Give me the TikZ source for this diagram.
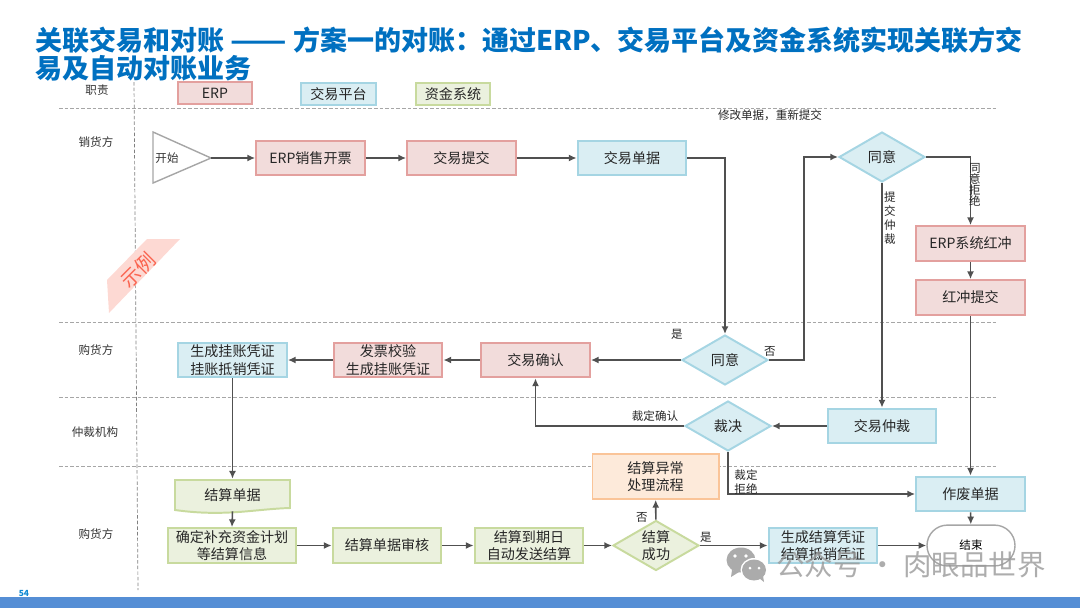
\documentclass[tikz,border=0pt]{standalone}
\usepackage{fontspec}
\setmainfont{Noto Sans CJK SC}
\usetikzlibrary{arrows.meta,shapes.geometric,shapes.misc}
\definecolor{erpfill}{HTML}{F2DCDB}
\definecolor{erpline}{HTML}{E3A09E}
\definecolor{platfill}{HTML}{DAEEF3}
\definecolor{platline}{HTML}{A5D5E3}
\definecolor{fundfill}{HTML}{EBF1DE}
\definecolor{fundline}{HTML}{C8DA9E}
\definecolor{warnfill}{HTML}{FDEADA}
\definecolor{warnline}{HTML}{FAC498}
\definecolor{flowline}{HTML}{505050}
\definecolor{titleblue}{HTML}{0070C0}
\definecolor{barblue}{HTML}{558ED5}
\definecolor{bannerfill}{HTML}{FDD9D3}
\definecolor{bannertext}{HTML}{FA6450}
\definecolor{markgray}{HTML}{ABABAB}
\tikzset{
  boxtext/.style={font=\fontsize{10}{12.5}\selectfont, text=black!85, align=center, inner sep=0pt},
  erpbox/.style={boxtext, draw=erpline, fill=erpfill, line width=1.4pt, minimum width=2.72cm, minimum height=0.87cm},
  platbox/.style={boxtext, draw=platline, fill=platfill, line width=1.4pt, minimum width=2.72cm, minimum height=0.87cm},
  fundbox/.style={boxtext, draw=fundline, fill=fundfill, line width=1.4pt, minimum width=2.72cm, minimum height=0.87cm},
  platdiamond/.style={boxtext, diamond, aspect=1.7, draw=platline, fill=platfill, line width=1.4pt, minimum width=2.15cm, minimum height=1.25cm},
  funddiamond/.style={platdiamond, draw=fundline, fill=fundfill},
  legend/.style={minimum width=1.87cm, minimum height=0.55cm},
  lane/.style={font=\fontsize{8.2}{9}\selectfont, text=black!80, inner sep=0pt},
  tag/.style={font=\fontsize{8.2}{9.4}\selectfont, text=black!85, align=center, inner sep=0pt},
  flow/.style={draw=flowline, line width=1.1pt, -{Latex[length=5.5pt,width=5pt]}},
  swim/.style={draw=black!35, line width=0.5pt, dash pattern=on 2.5pt off 1.5pt},
}
\begin{document}
\begin{tikzpicture}[x=0.025cm,y=-0.025cm]
\useasboundingbox (0,0) rectangle (1080,608);
% title and footer
\node[font=\fontsize{19.2}{20.2}\bfseries, text=titleblue, anchor=north west, align=left, inner sep=0pt] (title) at (35,26)
  {关联交易和对账 \scalebox{1.22}[1]{——} 方案一的对账：通过ERP、交易平台及资金系统实现关联方交\\易及自动对账业务};
\fill[barblue] (0,597) rectangle (1080,608);
\node[font=\fontsize{6}{7}\bfseries, text=cyan!70!blue, inner sep=0pt] (pageno) at (24,593) {54};
% swimlane rules
\foreach \y in {108,322,397,466}
  \draw[swim] (59,\y) -- (996,\y);
\draw[swim, draw=black!50] (134,82) -- (138,590);
% corner banner
\fill[bannerfill] (147,239) -- (180,239) -- (109,313) -- (107,280) -- cycle;
\node[rotate=45, font=\fontsize{14}{15}\selectfont, text=bannertext, inner sep=0pt] (sample) at (138,270) {示例};
% lanes and legend
\node[lane] (laneduty) at (97,90) {职责};
\node[lane] (laneseller) at (96,142) {销货方};
\node[lane] (lanebuyera) at (96,350) {购货方};
\node[lane] (lanearbiter) at (95,432) {仲裁机构};
\node[lane] (lanebuyerb) at (96,534) {购货方};
\node[erpbox, legend] (legerp) at (215,93) {ERP};
\node[platbox, legend] (legplat) at (338.5,94) {交易平台};
\node[fundbox, legend] (legfund) at (453,94) {资金系统};
% seller row
\draw[draw=black!35, line width=1pt, fill=white] (153,132) -- (153,183) -- (211,158) -- cycle;
\coordinate (starttip) at (211,158);
\node[lane] (starttext) at (167,158) {开始};
\node[erpbox] (invoice) at (310.5,158) {ERP销售开票};
\node[erpbox] (submit) at (461.5,158) {交易提交};
\node[platbox] (tradedoc) at (632,158) {交易单据};
\node[platdiamond] (agreetop) at (882,157) {同意};
\node[erpbox] (redflush) at (970.5,243.5) {ERP系统红冲};
\node[erpbox] (redsubmit) at (970.5,297.5) {红冲提交};
% first buyer row
\node[platdiamond] (agreemid) at (725,360) {同意};
\node[erpbox] (confirm) at (535.5,360) {交易确认};
\node[erpbox] (check) at (388,360) {发票校验\\生成挂账凭证};
\node[platbox] (voucher) at (232.5,360) {生成挂账凭证\\挂账抵销凭证};
% arbitration row
\node[platbox] (arbitrate) at (882,426) {交易仲裁};
\node[platdiamond] (ruling) at (728,426) {裁决};
% second buyer row
\node[boxtext, draw=warnline, fill=warnfill, line width=1.4pt, minimum width=3.15cm, minimum height=1.12cm] (abnormal) at (655.5,476.5) {结算异常\\处理流程};
\node[platbox] (voidbill) at (970.5,494) {作废单据};
\draw[draw=fundline, fill=fundfill, line width=1.4pt] (175,480) -- (290,480) -- (290,508)
  .. controls (255,509) and (225,517) .. (175,510) -- cycle;
\node[boxtext, minimum width=2.87cm, minimum height=0.8cm] (settlenote) at (232.5,495) {结算单据};
\node[fundbox, minimum width=3.2cm] (plan) at (232,545.5) {确定补充资金计划\\等结算信息};
\node[fundbox] (review) at (387,545.5) {结算单据审核};
\node[fundbox] (due) at (529,545.5) {结算到期日\\自动发送结算};
\node[funddiamond] (settled) at (656,545.5) {结算\\成功};
\node[platbox] (settlevoucher) at (823,545.5) {生成结算凭证\\结算抵销凭证};
\node[rounded rectangle, draw=black!35, fill=white, line width=1pt, minimum width=2.2cm, minimum height=1.02cm, inner sep=0pt, font=\fontsize{8.2}{9}\selectfont] (finish) at (971,545.5) {结束};
% connectors
\draw[flow] (starttip) -- (invoice);
\draw[flow] (invoice) -- (submit);
\draw[flow] (submit) -- (tradedoc);
\draw[flow] (tradedoc) -| (agreemid);
\draw[flow] (agreemid.west) -- (confirm.east);
\draw[flow] (confirm) -- (check);
\draw[flow] (check) -- (voucher);
\draw[flow] (voucher) -- (settlenote.north);
\draw[flow] (settlenote.south) -- (plan.north);
\draw[flow] (plan) -- (review);
\draw[flow] (review) -- (due);
\draw[flow] (due) -- (settled);
\draw[flow] (settled) -- (settlevoucher);
\draw[flow] (settlevoucher) -- (finish);
\draw[flow] (settled) -- (abnormal);
\coordinate (reroute) at (804,360);
\draw[flow] (agreemid.east) -- (reroute) |- (agreetop.west);
\draw[flow] (agreetop.east) -| (redflush.north);
\draw[flow] (redflush) -- (redsubmit);
\draw[flow] (redsubmit) -- (voidbill);
\draw[flow] (agreetop.south) -- (arbitrate.north);
\draw[flow] (arbitrate) -- (ruling);
\draw[flow] (ruling.west) -| (confirm.south);
\draw[flow] (ruling.south) |- (voidbill.west);
\draw[flow] (voidbill) -- (finish);
% labels on the connectors
\node[tag] (lblredo) at (770,115) {修改单据，重新提交};
\node[tag, font=\fontsize{8.2}{9.8}\selectfont] (lblappeal) at (890,218) {提\\交\\仲\\裁};
\node[tag, font=\fontsize{8.2}{7.8}\selectfont] (lblrefuse) at (975,185) {同\\意\\拒\\绝};
\node[tag] (lblyesa) at (677,334) {是};
\node[tag] (lblnoa) at (770,351) {否};
\node[tag] (lblruleok) at (655,416) {裁定确认};
\node[tag] (lblruleno) at (746,482) {裁定\\拒绝};
\node[tag] (lblnob) at (642,517) {否};
\node[tag] (lblyesb) at (706,537) {是};
% account mark
\fill[markgray] (741,560) ellipse (14.5 and 12.5);
\fill[markgray] (732,570) -- (731,577) -- (739,572) -- cycle;
\fill[white] (754,570) ellipse (13.5 and 12);
\fill[markgray] (754,570) ellipse (12 and 10.5);
\fill[markgray] (759,578) -- (764,582) -- (763,576) -- cycle;
\fill[white] (735,556) circle (1.8) (746,556) circle (1.8) (750,568) circle (1.5) (759,568) circle (1.5);
\node[opacity=0.8, text=black!40, font=\fontsize{20.3}{22}\selectfont, anchor=west, inner sep=0pt] (mark) at (776,565) {公众号 · 肉眼品世界};
\end{tikzpicture}
\end{document}
